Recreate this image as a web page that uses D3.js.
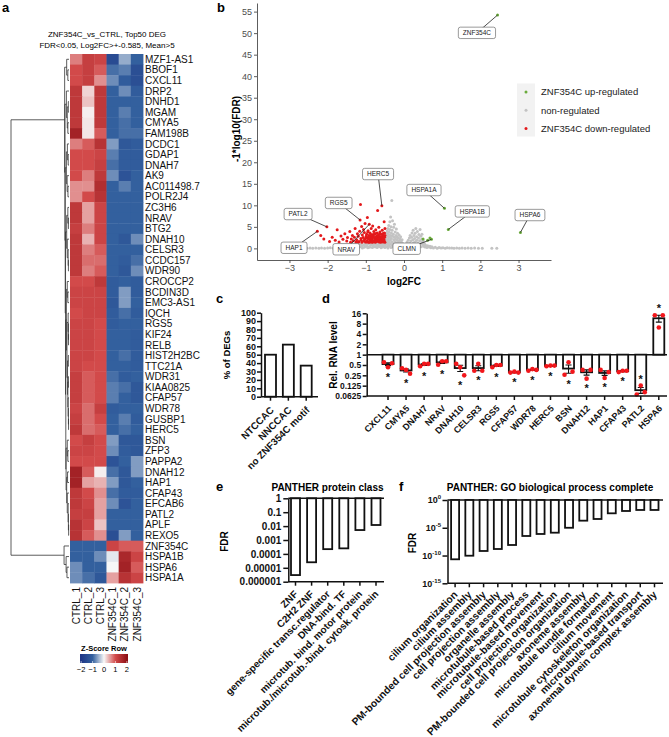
<!DOCTYPE html>
<html>
<head>
<meta charset="utf-8">
<script src="https://cdn.jsdelivr.net/npm/d3@7"></script>
<style>
body { margin: 0; background: #fff; }
svg text { font-family: "Liberation Sans", Arial, sans-serif; }
</style>
</head>
<body>
<svg id="fig" width="669" height="737"></svg>
<script>
// ---------- panel a: heatmap data ----------
var genes = ["MZF1-AS1","BBOF1","CXCL11","DRP2","DNHD1","MGAM","CMYA5","FAM198B","DCDC1","GDAP1",
  "DNAH7","AK9","AC011498.7","POLR2J4","ZC3H6","NRAV","BTG2","DNAH10","CELSR3","CCDC157",
  "WDR90","CROCCP2","BCDIN3D","EMC3-AS1","IQCH","RGS5","KIF24","RELB","HIST2H2BC","TTC21A",
  "WDR31","KIAA0825","CFAP57","WDR78","GUSBP1","HERC5","BSN","ZFP3","PAPPA2","DNAH12",
  "HAP1","CFAP43","EFCAB6","PATL2","APLF","REXO5","ZNF354C","HSPA1B","HSPA6","HSPA1A"];
var samples = ["CTRL_1","CTRL_2","CTRL_3","ZNF354C_1","ZNF354C_2","ZNF354C_3"];
var zscores = [
  [0.7,1.2,1.1,-1.5,-0.5,-1.0],[1.0,1.2,0.9,-0.9,-0.8,-1.4],[1.0,1.2,0.6,-0.7,-1.1,-1.4],
  [1.3,0.2,1.3,-1.0,-0.7,-1.1],[1.3,0.3,1.3,-1.0,-1.0,-1.0],[1.3,0.05,1.3,-1.0,-0.8,-1.0],
  [1.3,0.1,1.3,-1.0,-0.9,-1.0],[1.7,0.1,0.9,-1.0,-0.9,-0.9],[0.7,0.9,1.4,-0.6,-1.2,-1.1],
  [1.0,1.0,1.1,-0.8,-1.1,-1.1],[1.0,1.0,1.2,-0.9,-1.1,-1.1],[1.0,0.7,1.3,-0.7,-1.3,-1.0],
  [0.6,0.6,1.5,-1.0,-0.8,-1.0],[0.6,1.0,1.4,-1.0,-1.0,-1.0],[1.3,0.5,1.1,-1.0,-1.0,-1.0],
  [1.3,0.5,1.1,-1.0,-1.0,-1.0],[1.2,0.7,1.1,-1.0,-1.0,-1.0],[1.3,0.4,1.1,-1.0,-1.2,-0.7],
  [1.3,0.7,0.9,-1.0,-1.0,-1.0],[1.3,0.8,0.8,-1.0,-1.1,-0.9],[1.3,0.7,0.9,-1.0,-1.2,-0.7],
  [1.0,1.0,1.3,-1.1,-1.0,-1.1],[1.1,1.1,1.1,-1.1,-0.6,-1.1],[1.1,1.1,1.1,-1.2,-0.6,-1.0],
  [1.0,1.1,1.1,-1.1,-0.9,-1.1],[1.1,1.1,1.0,-1.1,-1.0,-1.0],[1.1,1.1,1.0,-1.0,-1.0,-1.1],
  [1.1,1.1,1.0,-1.0,-1.0,-1.1],[1.1,1.1,1.0,-1.0,-0.9,-1.1],[1.1,1.0,1.0,-1.0,-1.0,-1.1],
  [1.2,0.9,1.0,-0.9,-1.1,-1.0],[1.2,0.9,1.0,-0.8,-0.9,-1.2],[1.2,0.9,1.0,-0.8,-1.0,-1.2],
  [1.1,0.8,1.2,-1.1,-1.0,-1.0],[1.2,0.8,1.0,-1.0,-0.8,-1.1],[1.3,0.8,0.9,-1.0,-0.9,-1.0],
  [1.0,1.2,1.0,-0.6,-1.2,-1.2],[1.1,1.1,1.0,-0.7,-1.1,-1.2],[1.0,1.0,1.0,-1.3,-1.0,-0.6],
  [1.7,0.9,0.05,-0.9,-1.2,-0.6],[1.7,0.5,0.4,-0.6,-1.2,-1.0],[1.3,1.0,0.6,-0.9,-1.1,-1.1],
  [1.3,1.1,0.5,-0.7,-1.3,-1.0],[1.2,1.2,0.5,-1.0,-1.0,-1.0],[1.4,1.1,0.3,-1.0,-1.0,-1.0],
  [1.4,0.9,0.6,-1.4,-0.6,-1.0],[-1.0,-1.0,-1.0,1.1,0.9,0.9],[-1.0,-1.0,-0.7,-0.1,1.6,1.1],
  [-0.7,-1.0,-1.0,0.0,1.7,0.9],[-0.7,-0.9,-1.2,0.5,1.4,1.1]
];
// row dendrogram: [height, left, right], leaves are row indices
var cluster1 = [0.075,
  [0.04, 0, [0.02, 1, 2]],
  [0.07,
    [0.045, 3, [0.03, [0.012, 4, 5], [0.02, 6, 7]]],
    [0.065,
      [0.045, [0.028, 8, [0.014, 9, 10]], [0.032, 11, [0.018, 12, 13]]],
      [0.06,
        [0.04, [0.02, 14, [0.01, 15, 16]], [0.03, 17, [0.015, 18, [0.01, 19, 20]]]],
        [0.055,
          [0.045, [0.03, 21, [0.02, 22, 23]], [0.035, [0.015, 24, [0.01, 25, [0.008, 26, 27]]],
            [0.025, [0.012, 28, 29], [0.02, [0.01, 30, 31], [0.015, 32, [0.01, 33, [0.008, 34, 35]]]]]]],
          [0.05, [0.03, 36, [0.02, 37, 38]], [0.04, [0.025, 39, 40], [0.03, 41, [0.015, 42, [0.01, 43, [0.006, 44, 45]]]]]]
        ]]]]];
var cluster2 = [0.085, 46, [0.05, 47, [0.035, 48, 49]]];
var rowTree = [1, cluster1, cluster2];
var keyTicks = [-2, -1, 0, 1, 2];

// ---------- panel b: volcano data [log2FC, -log10 FDR] ----------
var upReg = [[2.45,54.2],[1.06,9.3],[1.16,4.4],[3.05,3.7],[0.72,2.1],[0.68,2.4],[0.5,2.2],[0.62,1.9]];
var downReg = [[-2.27,3.95],[-2.02,5.0],[-2.18,3.0],[-2.1,2.2],[-1.95,1.6],[-1.88,2.6],[-1.75,4.3],[-1.8,1.9],
  [-1.7,1.5],[-1.65,2.9],[-1.6,2.1],[-1.55,3.4],[-1.5,1.7],[-1.48,2.5],[-1.42,3.9],[-1.4,1.4],[-1.38,2.2],
  [-1.35,3.0],[-1.33,1.8],[-1.3,2.6],[-1.28,4.6],[-1.26,1.5],[-1.24,2.0],[-1.22,3.4],[-1.2,2.8],[-1.18,1.6],
  [-1.16,4.0],[-1.15,6.6],[-1.14,10.2],[-1.13,2.3],[-1.11,5.1],[-1.1,1.4],[-1.09,3.1],[-1.07,2.5],[-1.06,4.4],
  [-1.05,1.8],[-1.04,3.7],[-1.03,2.1],[-1.02,5.8],[-1.01,1.5],[-0.99,2.8],[-0.98,3.3],[-0.97,1.7],[-0.96,7.2],
  [-0.95,2.3],[-0.94,4.1],[-0.93,1.4],[-0.92,3.0],[-0.91,5.6],[-0.9,2.0],[-0.89,3.6],[-0.88,1.6],[-0.87,2.6],
  [-0.86,4.6],[-0.85,1.9],[-0.84,3.2],[-0.83,2.3],[-0.82,5.2],[-0.81,1.5],[-0.8,2.9],[-0.79,3.9],[-0.78,1.8],
  [-0.77,2.4],[-0.76,3.4],[-0.75,1.4],[-0.74,4.3],[-0.73,2.1],[-0.72,2.8],[-0.71,1.6],[-0.7,3.6],[-0.69,8.8],
  [-0.69,2.4],[-0.68,1.9],[-0.67,3.1],[-0.66,4.9],[-0.65,1.5],[-0.64,2.6],[-0.63,3.8],[-0.62,2.0],[-0.61,1.4],
  [-0.6,3.3],[-0.59,2.3],[-0.58,9.9],[-0.58,1.7],[-0.57,4.2],[-0.56,2.8],[-0.55,1.5],[-0.54,3.5],[-0.53,2.1],
  [-0.52,6.2],[-0.52,1.8],[-0.51,2.6],[-0.5,4.6],[-0.5,3.0],[-0.5,1.4],[-0.98,1.5],[-0.95,3.8],[-0.93,2.6],
  [-0.9,1.4],[-0.88,3.0],[-0.86,2.1],[-0.84,1.4],[-0.82,2.7],[-0.8,1.7],[-0.78,3.3],[-0.76,2.0],[-0.74,1.6],
  [-0.72,3.5],[-0.7,2.2],[-0.68,2.9],[-0.66,1.7],[-0.64,3.3],[-0.62,2.7],[-0.6,1.8],[-0.58,2.5],[-0.56,3.1],
  [-0.54,1.9],[-0.53,2.9],[-0.51,3.6],[-0.55,2.2],[-0.65,2.3],[-0.75,2.6],[-0.85,2.5],[-0.92,2.2],[-1.0,2.4],
  [-1.12,1.9],[-1.2,1.4]];
var nonReg = [[-2.54,0.03],[-2.46,0.06],[-2.39,0.02],[-2.31,0.08],[-2.23,0.04],[-2.16,0.1],[-2.08,0.03],
  [-2.0,0.07],[-1.93,0.12],[-1.85,0.04],[-1.78,0.09],[-1.7,0.15],[-1.63,0.05],[-1.56,0.11],[-1.49,0.2],
  [-1.42,0.06],[-1.36,0.16],[-1.3,0.27],[-1.24,0.08],[-1.19,0.2],[-1.14,0.36],[-1.09,0.1],[-1.04,0.28],
  [-0.99,0.5],[-0.95,0.14],[-0.91,0.4],[-0.87,0.7],[-0.83,0.22],[-0.8,0.55],[-0.77,0.95],[-0.74,0.3],
  [-0.71,0.75],[-0.68,1.1],[-0.65,0.45],[-0.62,0.9],[-0.6,0.15],[-0.57,1.2],[-0.55,0.6],
  [-1.28,0.5],[-1.22,0.7],[-1.17,0.9],[-1.12,1.1],[-1.1,0.6],[-1.05,0.85],[-1.01,1.15],[-0.97,0.8],
  [-0.93,1.05],[-0.9,0.25],[-0.86,1.2],[-0.84,0.95],[-0.81,1.15],[-0.79,0.35],[-0.76,1.2],[-0.73,1.0],
  [-0.7,0.2],[-0.67,0.8],[-0.64,1.2],[-0.61,0.5],[-0.58,0.95],[-0.56,0.3],[-0.53,0.8],[-0.52,1.15],
  [-0.5,0.2],[-0.49,0.6],[-0.48,1.0],[-0.48,1.5],[-0.47,2.0],[-0.47,2.5],[-0.46,3.0],[-0.45,0.4],[-0.45,3.5],
  [-0.44,1.2],[-0.44,4.1],[-0.43,1.8],[-0.43,2.8],[-0.42,0.1],[-0.42,4.6],[-0.41,0.8],[-0.41,2.2],[-0.4,3.2],
  [-0.4,5.3],[-0.39,1.4],[-0.39,3.8],[-0.38,0.5],[-0.38,2.6],[-0.37,6.2],[-0.37,4.4],[-0.36,1.0],[-0.36,1.9],
  [-0.35,3.0],[-0.35,7.3],[-0.34,0.2],[-0.34,5.0],[-0.33,2.3],[-0.33,3.6],[-0.32,11.1],[-0.32,1.5],[-0.31,0.7],
  [-0.31,4.2],[-0.3,2.8],[-0.3,6.4],[-0.29,1.2],[-0.28,0.3],[-0.28,3.3],[-0.27,2.0],[-0.27,4.9],[-0.26,0.9],
  [-0.25,2.6],[-0.25,5.6],[-0.24,1.6],[-0.23,3.8],[-0.22,0.4],[-0.22,2.2],[-0.21,3.0],[-0.2,1.2],[-0.2,4.5],
  [-0.19,0.7],[-0.18,1.9],[-0.18,2.7],[-0.17,3.5],[-0.16,0.2],[-0.15,1.4],[-0.15,2.4],[-0.14,0.9],[-0.13,3.1],
  [-0.12,1.8],[-0.11,0.5],[-0.1,2.1],[-0.1,1.1],[-0.09,2.7],[-0.08,0.3],[-0.07,1.5],[-0.06,0.8],[-0.05,2.0],
  [-0.04,1.2],[-0.03,0.4],[-0.02,0.9],[0.0,0.2],[0.01,0.6],
  [0.03,0.3],[0.05,0.9],[0.07,0.5],[0.08,1.4],[0.1,0.2],[0.11,1.9],[0.12,0.8],[0.14,2.4],[0.15,1.2],[0.16,3.0],
  [0.17,0.4],[0.18,1.7],[0.2,2.6],[0.21,3.6],[0.22,0.9],[0.23,2.0],[0.24,4.2],[0.25,1.3],[0.26,3.0],[0.27,0.5],
  [0.28,2.3],[0.29,3.5],[0.3,1.6],[0.31,4.6],[0.32,0.8],[0.33,2.7],[0.34,1.9],[0.35,3.9],[0.36,0.3],[0.37,1.2],
  [0.38,2.4],[0.39,3.2],[0.4,0.7],[0.41,1.8],[0.42,4.4],[0.43,1.1],[0.44,2.8],[0.45,0.4],[0.46,2.1],[0.47,3.3],
  [0.48,1.4],[0.49,0.9],[0.5,1.8],[0.52,0.5],[0.53,1.2],[0.55,0.3],[0.56,0.8],[0.58,0.5],[0.6,0.2],[0.62,0.6],
  [0.65,0.3],[0.68,0.5],[0.7,0.15],[0.73,0.35],[0.77,0.1],[0.82,0.25],[0.87,0.05],[0.92,0.18],[0.97,0.08],
  [1.02,0.14],[1.08,0.04],[1.13,0.12],[1.19,0.06],[1.25,0.1],[1.31,0.03],[1.38,0.08],[1.45,0.05],[1.52,0.1],
  [1.6,0.03],[1.68,0.07],[1.76,0.04],[1.85,0.06],[1.95,0.02],[2.05,0.05],[2.3,0.03],[2.43,0.02]];
var volcLabels = [["ZNF354C",2.45,54.2],["HERC5",-0.58,9.9],["HSPA1A",1.06,9.3],["HSPA1B",1.16,4.4],
  ["HSPA6",3.05,3.7],["RGS5",-1.15,6.6],["PATL2",-2.02,5.0],["HAP1",-2.27,3.95],["NRAV",-0.91,5.6],["CLMN",0.72,2.1]];
var volcXTicks = [-3,-2,-1,0,1,2,3];
var volcYTicks = [0,5,10,15,20,25,30,35,40,45,50,55];
var legendItems = ["ZNF354C up-regulated","non-regulated","ZNF354C down-regulated"];

// ---------- panel c ----------
var motifCats = ["NTCCAC","NNCCAC","no ZNF354C motif"];
var motifPct = [50, 62, 37];
var pctTicks = [0,10,20,30,40,50,60,70,80,90,100];

// ---------- panel d: qPCR, 3 replicates ----------
var qpcrGenes = ["CXCL11","CMYA5","DNAH7","NRAV","DNAH10","CELSR3","RGS5","CFAP57","WDR78","HERC5",
  "BSN","DNAH12","HAP1","CFAP43","PATL2","HSPA6"];
var qpcrReps = [[0.6,0.43,0.56],[0.4,0.36,0.28],[0.46,0.54,0.54],[0.51,0.64,0.64],[0.54,0.43,0.25],
  [0.34,0.54,0.34],[0.43,0.5,0.5],[0.3,0.32,0.3],[0.34,0.38,0.36],[0.46,0.48,0.48],[0.26,0.6,0.32],
  [0.36,0.2,0.36],[0.36,0.21,0.31],[0.31,0.34,0.34],[0.069,0.127,0.081],[14.1,6.2,14.1]];
var starAbove = ["PATL2","HSPA6"];
var rnaTicks = [0.0625,0.125,0.25,0.5,1,2,4,8,16];

// ---------- panel e ----------
var proteinClasses = ["ZNF","C2H2 ZNF","gene-specific transc.regulator","DNA-bind. TF",
  "microtub. bind. motor protein","microtub./microtub.-bind. cytosk. protein"];
var proteinFDR = [3e-6, 2.5e-5, 2.2e-4, 2.5e-4, 5.2e-3, 0.012];
var proteinTicks = [1,0.1,0.01,0.001,0.0001,0.00001,0.000001];

// ---------- panel f ----------
var goTerms = ["cilium organization","cilium assembly","PM-bounded cell projection assembly",
  "cell projection assembly","organelle assembly","microtubule-based process","microtubule-based movement",
  "cell projection organization","PM-bounded cell projection organization","axoneme assembly",
  "microtubule bundle formation","cilium movement","microtubule cytoskeleton organization",
  "microtubule-based transport","axonemal dynein complex assembly"];
var goFDR = [2.1e-11,9.3e-11,6.6e-10,1.5e-9,7.9e-9,3.3e-7,7.6e-7,1.3e-6,1e-5,1.9e-4,3.8e-4,4e-3,1.05e-2,1.6e-2,1.6e-2];
var goTicks = [0,-5,-10,-15];

var svg = d3.select("#fig");
var ink = "#111";

function letter(t, x, y) {
  svg.append("text").attr("x", x).attr("y", y).attr("font-size", 13)
    .attr("font-weight", "bold").text(t);
}
letter("a", 2, 12); letter("b", 217, 12); letter("c", 216, 303);
letter("d", 322, 303); letter("e", 216, 491); letter("f", 399, 491);

// ================= a: heatmap =================
var ga = svg.append("g");
var hx = d3.scaleBand().domain(samples).range([70, 143]);
var hy = d3.scaleBand().domain(genes).range([54, 583]);
var zColor = d3.scaleLinear().domain([-2, -1, 0, 1, 2])
  .range(["#1f3686", "#33609e", "#f7f7f7", "#d24a4a", "#8f1116"]).clamp(true);

ga.append("text").attr("x", 107).attr("y", 37).attr("text-anchor", "middle")
  .attr("font-size", 8).text("ZNF354C_vs_CTRL, Top50 DEG");
ga.append("text").attr("x", 107).attr("y", 48).attr("text-anchor", "middle")
  .attr("font-size", 8).text("FDR<0.05, Log2FC>+-0.585, Mean>5");

var cells = [];
zscores.forEach(function(row, i) {
  row.forEach(function(v, j) { cells.push({g: genes[i], s: samples[j], v: v}); });
});
ga.selectAll("rect.cell").data(cells).enter().append("rect").attr("class", "cell")
  .attr("x", function(d) { return hx(d.s); })
  .attr("y", function(d) { return hy(d.g); })
  .attr("width", hx.bandwidth() + 0.4)
  .attr("height", hy.bandwidth() + 0.4)
  .attr("fill", function(d) { return zColor(d.v); });

ga.selectAll("text.row").data(genes).enter().append("text").attr("class", "row")
  .attr("x", 145).attr("y", function(d) { return hy(d) + hy.bandwidth() / 2 + 3.6; })
  .attr("font-size", 10).attr("fill", ink).text(function(d) { return d; });

ga.selectAll("text.col").data(samples).enter().append("text").attr("class", "col")
  .attr("transform", function(d) { return "translate(" + (hx(d) + hx.bandwidth() / 2 + 3.6) + ",587) rotate(-90)"; })
  .attr("text-anchor", "end").attr("font-size", 10).attr("fill", ink).text(function(d) { return d; });

// dendrogram
var dendX = d3.scaleLinear().domain([0, 1]).range([69, 11]);
function drawNode(node) {
  if (typeof node === "number") return {y: hy(genes[node]) + hy.bandwidth() / 2, h: 0};
  var a = drawNode(node[1]), b = drawNode(node[2]);
  var x = dendX(node[0]);
  ga.append("path")
    .attr("d", "M" + dendX(a.h) + "," + a.y + "H" + x + "V" + b.y + "H" + dendX(b.h))
    .attr("fill", "none").attr("stroke", "#333").attr("stroke-width", 0.8);
  return {y: (a.y + b.y) / 2, h: node[0]};
}
drawNode(rowTree);

// colour key
var keyX = d3.scaleLinear().domain([-2.1, 2.1]).range([80, 128]);
var grad = svg.append("defs").append("linearGradient").attr("id", "zgrad");
[-2.1].concat(zColor.domain(), [2.1]).forEach(function(v) {
  grad.append("stop").attr("offset", (v + 2.1) / 4.2).attr("stop-color", zColor(v));
});
ga.append("text").attr("x", 104).attr("y", 651).attr("text-anchor", "middle")
  .attr("font-size", 7.5).attr("font-weight", "bold").text("Z-Score Row");
ga.append("rect").attr("x", keyX(-2.1)).attr("y", 654).attr("width", keyX(2.1) - keyX(-2.1))
  .attr("height", 9).attr("fill", "url(#zgrad)");
keyTicks.forEach(function(t) {
  ga.append("line").attr("x1", keyX(t)).attr("x2", keyX(t)).attr("y1", 661).attr("y2", 663)
    .attr("stroke", "#fff").attr("stroke-width", 0.6);
  ga.append("text").attr("x", keyX(t)).attr("y", 672).attr("text-anchor", "middle")
    .attr("font-size", 7.5).text(t < 0 ? "\u2212" + Math.abs(t) : t);
});

// ================= b: volcano =================
var gb = svg.append("g");
var vx = d3.scaleLinear().domain([-3.85, 3.85]).range([257, 551]);
var vy = d3.scaleLinear().domain([-2.7, 57]).range([260, 3]);

var axB = gb.append("g").attr("transform", "translate(0,260)")
  .call(d3.axisBottom(vx).tickValues(volcXTicks).tickSize(3).tickSizeOuter(0).tickPadding(2));
var axL = gb.append("g").attr("transform", "translate(257,0)")
  .call(d3.axisLeft(vy).tickValues(volcYTicks).tickSize(3).tickSizeOuter(0).tickPadding(2));
[axB, axL].forEach(function(a) {
  a.attr("font-size", 9);
  a.selectAll("path,line").attr("stroke", "#333").attr("stroke-width", 0.8);
  a.selectAll("text").attr("fill", "#4d4d4d");
});
gb.append("text").attr("x", 404).attr("y", 285).attr("text-anchor", "middle")
  .attr("font-size", 10).attr("font-weight", "bold").text("log2FC");
gb.append("text").attr("transform", "translate(240,129) rotate(-90)").attr("text-anchor", "middle")
  .attr("font-size", 10).attr("font-weight", "bold").text("-1*log10(FDR)");

var volcColors = {up: "#6aab3b", non: "#c3c3c3", down: "#e3191c"};
function dots(arr, col) {
  gb.append("g").selectAll("circle").data(arr).enter().append("circle")
    .attr("cx", function(d) { return vx(d[0]); })
    .attr("cy", function(d) { return vy(d[1]); })
    .attr("r", 1.5).attr("fill", col);
}
dots(nonReg, volcColors.non);
dots(downReg, volcColors.down);
dots(upReg, volcColors.up);

// repelled label boxes (pixel nudges from the point)
var labelNudge = {ZNF354C: [-20.6, 17.8], HERC5: [-3.8, -31.7], HSPA1A: [-20.5, -18.3], HSPA1B: [24, -18],
  HSPA6: [9.5, -17.4], RGS5: [-21.4, -17], PATL2: [-28.8, -12.8], HAP1: [-23.3, 16.4], NRAV: [-23, 25], CLMN: [-24.8, 9.4]};
volcLabels.forEach(function(l) {
  var px = vx(l[1]), py = vy(l[2]);
  var bx = px + labelNudge[l[0]][0], by = py + labelNudge[l[0]][1];
  gb.append("line").attr("x1", px).attr("y1", py).attr("x2", bx).attr("y2", by)
    .attr("stroke", "#222").attr("stroke-width", 0.8);
  var box = gb.append("rect");
  var t = gb.append("text").attr("x", bx).attr("y", by + 2.3).attr("text-anchor", "middle")
    .attr("font-size", 6.5).attr("fill", "#222").text(l[0]);
  var w = t.node().getComputedTextLength() + 9;
  box.attr("x", bx - w / 2).attr("y", by - 5.7).attr("width", w).attr("height", 11.4)
    .attr("rx", 2).attr("fill", "#fff").attr("stroke", "#555").attr("stroke-width", 0.6);
});

// legend
var leg = gb.append("g");
leg.append("rect").attr("x", 517).attr("y", 83.5).attr("width", 18).attr("height", 53).attr("fill", "#f2f2f2");
[volcColors.up, volcColors.non, volcColors.down].forEach(function(c, i) {
  leg.append("circle").attr("cx", 526).attr("cy", 92 + i * 18.2).attr("r", 1.5).attr("fill", c);
  leg.append("text").attr("x", 541).attr("y", 95.3 + i * 18.2).attr("font-size", 9.5)
    .attr("fill", "#222").text(legendItems[i]);
});

// ================= shared GraphPad-style helpers =================
function styleAxis(a, fs) {
  a.attr("font-size", fs);
  a.selectAll("path,line").attr("stroke", ink).attr("stroke-width", 1.5);
  a.selectAll("text").attr("font-weight", "bold").attr("fill", ink);
}
function xAxisLine(g, x0, x1, y, scale, cats) {
  g.append("line").attr("x1", x0).attr("x2", x1).attr("y1", y).attr("y2", y)
    .attr("stroke", ink).attr("stroke-width", 1.5);
  cats.forEach(function(c) {
    g.append("line").attr("x1", scale(c)).attr("x2", scale(c)).attr("y1", y).attr("y2", y + 4)
      .attr("stroke", ink).attr("stroke-width", 1.5);
  });
}
function rotLabels(g, scale, cats, y, fs, dx, dy) {
  cats.forEach(function(c) {
    g.append("text").attr("transform", "translate(" + (scale(c) + dx) + "," + (y + dy) + ") rotate(-45)")
      .attr("text-anchor", "end").attr("font-size", fs).attr("font-weight", "bold")
      .attr("fill", ink).text(c);
  });
}
function yTitle(g, t, x, y, fs) {
  g.append("text").attr("transform", "translate(" + x + "," + y + ") rotate(-90)")
    .attr("text-anchor", "middle").attr("font-size", fs).attr("font-weight", "bold").text(t);
}

// ================= c =================
var gc = svg.append("g");
var cX = d3.scalePoint().domain(motifCats).range([270.5, 306.2]);
var cY = d3.scaleLinear().domain([0, 100]).range([396.7, 312.7]);
styleAxis(gc.append("g").attr("transform", "translate(261,0)")
  .call(d3.axisLeft(cY).tickValues(pctTicks).tickSize(4).tickSizeOuter(0).tickPadding(1)), 9);
gc.selectAll("rect").data(motifPct).enter().append("rect")
  .attr("x", function(d, i) { return cX(motifCats[i]) - 5.5; })
  .attr("y", function(d) { return cY(d); })
  .attr("width", 11).attr("height", function(d) { return cY(0) - cY(d); })
  .attr("fill", "#fff").attr("stroke", ink).attr("stroke-width", 1.8);
xAxisLine(gc, 261, 318, 396.7, cX, motifCats);
rotLabels(gc, cX, motifCats, 396.7, 9.8, 4, 14);
yTitle(gc, "% of DEGs", 229.5, 355, 9.5);

// ================= d =================
var gd = svg.append("g");
var dX = d3.scalePoint().domain(qpcrGenes).range([388, 658.8]);
var dY = d3.scaleLog().base(2).domain([0.0625, 16]).range([396, 313.3]);
styleAxis(gd.append("g").attr("transform", "translate(366.7,0)")
  .call(d3.axisLeft(dY).tickValues(rnaTicks).tickSize(4).tickSizeOuter(0).tickPadding(1.5)
    .tickFormat(function(d) { return String(d); })), 8.5);
var qStats = qpcrReps.map(function(r, i) {
  var m = d3.mean(r), sem = d3.deviation(r) / Math.sqrt(r.length);
  return {g: qpcrGenes[i], reps: r, mean: m, sem: sem};
});
gd.append("line").attr("x1", 366.7).attr("x2", 667).attr("y1", dY(1)).attr("y2", dY(1))
  .attr("stroke", ink).attr("stroke-width", 1.5);
qStats.forEach(function(s) {
  var cx = dX(s.g), y1 = dY(1), ym = dY(s.mean);
  gd.append("rect").attr("x", cx - 5.5).attr("y", Math.min(y1, ym)).attr("width", 11)
    .attr("height", Math.abs(ym - y1)).attr("fill", "#fff").attr("stroke", ink).attr("stroke-width", 1.8);
  var yLo = dY(s.mean - s.sem), yHi = dY(s.mean + s.sem);
  gd.append("path").attr("d", "M" + cx + "," + yLo + "V" + yHi + "M" + (cx - 3) + "," + yLo + "h6M" + (cx - 3) + "," + yHi + "h6")
    .attr("stroke", ink).attr("stroke-width", 1.1).attr("fill", "none");
  var offs = [-4, 0, 4];
  s.reps.forEach(function(v, k) {
    gd.append("circle").attr("cx", cx + offs[k]).attr("cy", dY(v)).attr("r", 2.3).attr("fill", "#f2161b");
  });
  var ys = s.reps.map(dY).concat([yLo, yHi, ym]);
  var above = starAbove.indexOf(s.g) >= 0;
  var sy = above ? d3.min(ys) - 9 : d3.max(ys) + 7;
  gd.append("text").attr("x", cx).attr("y", sy + 6.3).attr("text-anchor", "middle")
    .attr("font-size", 11).attr("font-weight", "bold").attr("fill", ink).text("*");
});
xAxisLine(gd, 366.7, 667, 396, dX, qpcrGenes);
rotLabels(gd, dX, qpcrGenes, 396, 9, 4, 13);
yTitle(gd, "Rel. RNA level", 337, 355, 10);

// ================= e =================
var ge = svg.append("g");
var eX = d3.scalePoint().domain(proteinClasses).range([295.5, 376]);
var eY = d3.scaleLog().domain([1e-6, 1]).range([581.7, 498.3]);
styleAxis(ge.append("g").attr("transform", "translate(288.3,0)")
  .call(d3.axisLeft(eY).tickValues(proteinTicks).tickSize(5).tickSizeOuter(0).tickPadding(2)
    .tickFormat(function(d) { var n = Math.round(-Math.log10(d)); return d.toFixed(n); })), 10);
ge.append("text").attr("x", 327.5).attr("y", 490.5).attr("text-anchor", "middle")
  .attr("font-size", 10).attr("font-weight", "bold").text("PANTHER protein class");
ge.append("line").attr("x1", 288.3).attr("x2", 384).attr("y1", eY(1)).attr("y2", eY(1))
  .attr("stroke", ink).attr("stroke-width", 1.5);
ge.selectAll("rect").data(proteinFDR).enter().append("rect")
  .attr("x", function(d, i) { return eX(proteinClasses[i]) - 4.5; })
  .attr("y", eY(1)).attr("width", 9)
  .attr("height", function(d) { return eY(d) - eY(1); })
  .attr("fill", "#fff").attr("stroke", ink).attr("stroke-width", 1.8);
xAxisLine(ge, 288.3, 384, 581.7, eX, proteinClasses);
rotLabels(ge, eX, proteinClasses, 581.7, 10, 3, 13);
yTitle(ge, "FDR", 227.5, 541.5, 10);

// ================= f =================
var gf = svg.append("g");
var fX = d3.scalePoint().domain(goTerms).range([455.1, 654.5]);
var fY = d3.scaleLog().domain([1e-15, 1]).range([583.3, 500]);
var fAx = gf.append("g").attr("transform", "translate(447.5,0)")
  .call(d3.axisLeft(fY).tickValues(goTicks.map(function(e) { return Math.pow(10, e); }))
    .tickSize(5).tickSizeOuter(0).tickFormat(""));
styleAxis(fAx, 9);
goTicks.forEach(function(e) {
  var t = gf.append("text").attr("x", 441).attr("y", fY(Math.pow(10, e)) + 3.2).attr("text-anchor", "end")
    .attr("font-size", 9).attr("font-weight", "bold").attr("fill", ink).text("10");
  t.append("tspan").attr("dy", -4).attr("font-size", 6).text(String(e));
});
gf.append("text").attr("x", 550).attr("y", 490.5).attr("text-anchor", "middle")
  .attr("font-size", 10).attr("font-weight", "bold").text("PANTHER: GO biological process complete");
gf.append("line").attr("x1", 447.5).attr("x2", 663).attr("y1", fY(1)).attr("y2", fY(1))
  .attr("stroke", ink).attr("stroke-width", 1.5);
gf.selectAll("rect").data(goFDR).enter().append("rect")
  .attr("x", function(d, i) { return fX(goTerms[i]) - 4; })
  .attr("y", fY(1)).attr("width", 8)
  .attr("height", function(d) { return fY(d) - fY(1); })
  .attr("fill", "#fff").attr("stroke", ink).attr("stroke-width", 1.8);
xAxisLine(gf, 447.5, 663, 583.3, fX, goTerms);
rotLabels(gf, fX, goTerms, 583.3, 10.3, 3, 12);
yTitle(gf, "FDR", 416, 543, 10);
</script>
</body>
</html>
